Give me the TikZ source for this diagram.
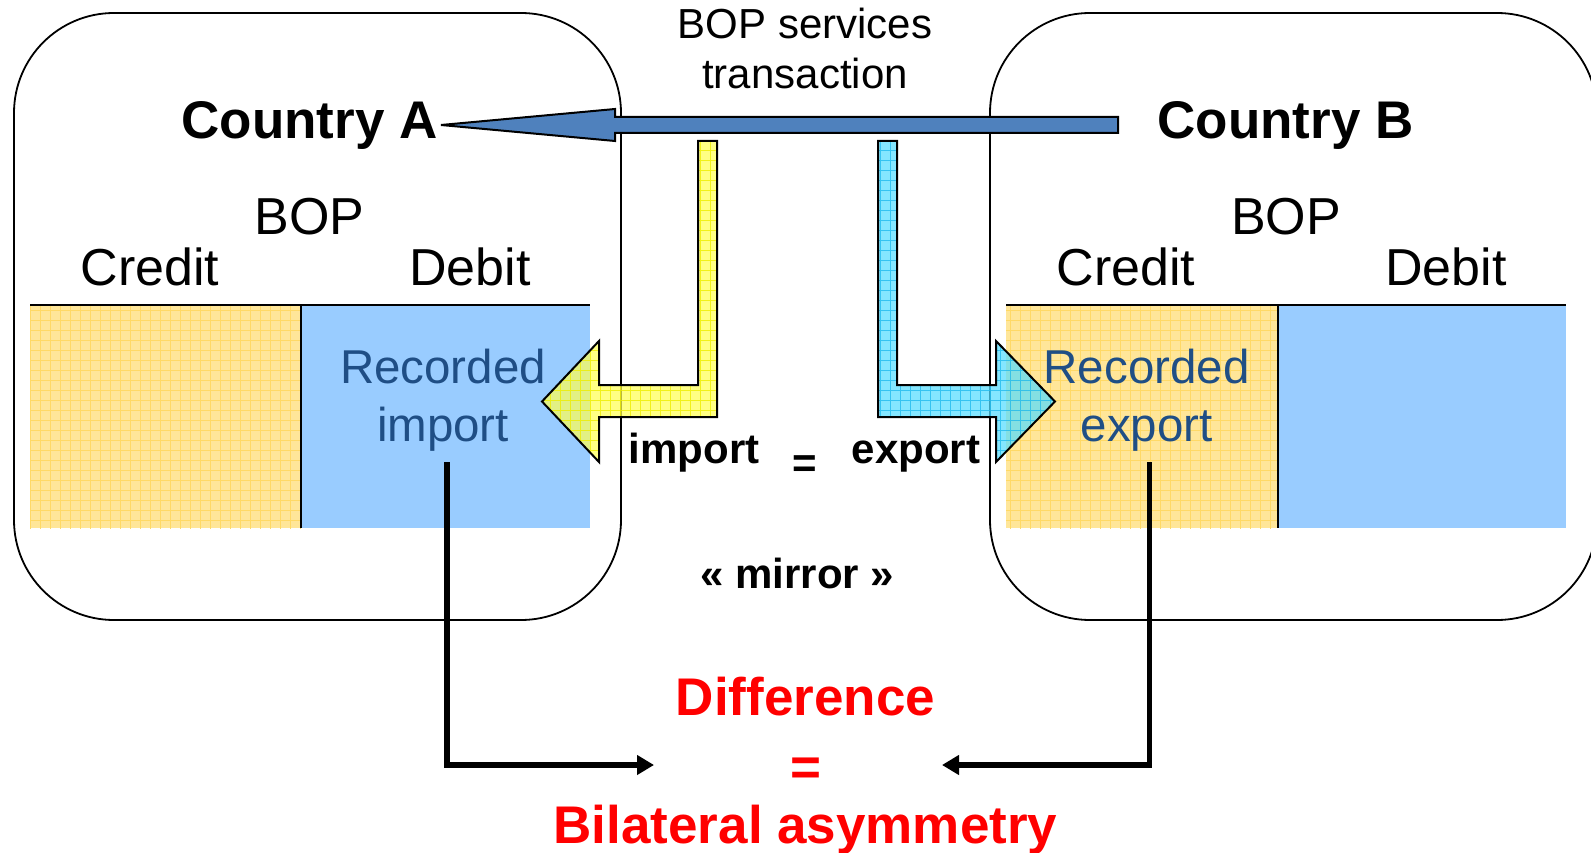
\documentclass[tikz,border=0pt]{standalone}
\usepackage{fontspec}
\setmainfont{Liberation Sans}
\usetikzlibrary{arrows.meta}
\definecolor{gold}{HTML}{FFE699}
\definecolor{goldline}{HTML}{FFD966}
\definecolor{lblue}{HTML}{99CCFF}
\definecolor{arrblue}{HTML}{4F81BD}
\definecolor{arryel}{HTML}{FFFF55}
\definecolor{arryelline}{HTML}{EEEE00}
\definecolor{arrcyan}{HTML}{55DDFF}
\definecolor{arrcyanline}{HTML}{22BBEE}
\definecolor{recblue}{HTML}{1F4E85}
\definecolor{redtxt}{HTML}{FF0000}
\newcommand{\myfs}[1]{\fontsize{#1}{#1}\selectfont}
\newcommand{\yelpath}{(698,141) -- (717,141) -- (717,417) -- (599,417) -- (599,462) -- (542,401.5) -- (599,341) -- (599,385) -- (698,385) -- cycle}
\newcommand{\cyanpath}{(878,141) -- (897,141) -- (897,385) -- (996,385) -- (996,341) -- (1055,401.5) -- (996,462) -- (996,417) -- (878,417) -- cycle}
\begin{document}
\begin{tikzpicture}[x=1pt,y=-1pt,
  box/.style={draw=black, line width=1.8pt, rounded corners=100pt, minimum width=607pt, minimum height=607pt, inner sep=0pt},
  txt/.style={inner sep=0pt, anchor=base},
  bigbold/.style={txt, font=\bfseries\myfs{53}},
  label/.style={txt, font=\myfs{52}},
  rec/.style={txt, font=\myfs{47.5}, text=recblue},
  midbold/.style={txt, font=\bfseries\myfs{42}},
  redbold/.style={txt, font=\bfseries\myfs{53}, text=redtxt},
  conn/.style={line width=5.5pt, -{Triangle[length=17pt,width=19pt]}},
  gridline/.style={line width=0.7pt}
]
\useasboundingbox (0,0) rectangle (1591,853);

% country boxes
\node[box] (boxA) at (317.5,316.5) {};
\node[box] (boxB) at (1293.5,316.5) {};

% BOP tables, country A
\fill[gold] (30,305) rectangle (301,528);
\begin{scope}
  \clip (30,305) rectangle (301,528);
  \draw[goldline, gridline, step=10pt] (20,300) grid (310,540);
\end{scope}
\fill[lblue] (301,305) rectangle (590,528);
\draw[line width=2.5pt] (30,305) -- (590,305);
\draw[line width=2.5pt] (301,305) -- (301,528);

% BOP tables, country B
\fill[gold] (1006,305) rectangle (1278,528);
\begin{scope}
  \clip (1006,305) rectangle (1278,528);
  \draw[goldline, gridline, step=10pt] (1000,300) grid (1290,540);
\end{scope}
\fill[lblue] (1278,305) rectangle (1566,528);
\draw[line width=2.5pt] (1006,305) -- (1566,305);
\draw[line width=2.5pt] (1278,305) -- (1278,528);

% texts
\node[txt, font=\myfs{42}] (svc1) at (805,38.6) {BOP services};
\node[txt, font=\myfs{42}] (svc2) at (805,89) {transaction};
\node[bigbold] (ctyA) at (309.5,139) {Country A};
\node[bigbold] (ctyB) at (1285.5,139) {Country B};
\node[label] (bopA) at (309.5,235) {BOP};
\node[label] (bopB) at (1286,235) {BOP};
\node[label] (crA) at (150,286) {Credit};
\node[label] (dbA) at (470,286) {Debit};
\node[label] (crB) at (1126,286) {Credit};
\node[label] (dbB) at (1446,286) {Debit};
\node[rec] (recA1) at (443,383.6) {Recorded};
\node[rec] (recA2) at (443,441.4) {import};
\node[rec] (recB1) at (1146.6,383.6) {Recorded};
\node[rec] (recB2) at (1146.6,441.4) {export};
\node[midbold] (imp) at (694,463) {import};
\node[midbold] (eqM) at (805,477) {=};
\node[midbold] (exp) at (916,463) {export};
\node[midbold] (mir) at (797.5,588.5) {« mirror »};
\node[redbold] (diff) at (805.5,715) {Difference};
\node[redbold] (eqR) at (805.5,785) {=};
\node[redbold] (bil) at (805.5,843) {Bilateral asymmetry};

% blue transaction arrow
\draw[fill=arrblue, line width=2pt, line join=miter]
  (1118,117) -- (615,117) -- (615,109) -- (441,125) -- (615,141) -- (615,133) -- (1118,133) -- cycle;

% yellow arrow
\fill[arryel, fill opacity=0.72] \yelpath;
\begin{scope}
  \clip \yelpath;
  \draw[arryelline, gridline, draw opacity=0.8, step=10pt] (530,130) grid (730,480);
\end{scope}
\draw[line width=2pt, line join=miter] \yelpath;

% cyan arrow
\fill[arrcyan, fill opacity=0.72] \cyanpath;
\begin{scope}
  \clip \cyanpath;
  \draw[arrcyanline, gridline, draw opacity=0.8, step=10pt] (870,130) grid (1070,480);
\end{scope}
\draw[line width=2pt, line join=miter] \cyanpath;

% connectors to the difference
\coordinate (endA) at (654,765);
\coordinate (endB) at (942,765);
\draw[conn] ([xshift=4pt,yshift=-11pt]recA2.south) |- (endA);
\draw[conn] ([xshift=3pt,yshift=-11pt]recB2.south) |- (endB);
\end{tikzpicture}
\end{document}
